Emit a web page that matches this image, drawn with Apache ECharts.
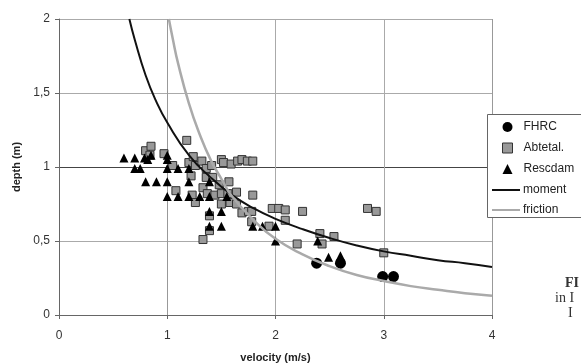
<!DOCTYPE html>
<html><head><meta charset="utf-8">
<script src="https://cdn.jsdelivr.net/npm/echarts@6/dist/echarts.min.js"></script>
<style>html,body{margin:0;padding:0;background:#fff}#c{width:581px;height:364px}</style>
</head><body><div id="c"></div>
<script>
// Data: [velocity (m/s), depth (m)]
const fhrc = [[2.38,0.35],[2.60,0.35],[2.99,0.26],[3.09,0.26]];
const abtetal = [
  [0.80,1.11],[0.85,1.14],[0.84,1.08],[0.97,1.09],[1.05,1.01],[1.08,0.84],[1.18,1.18],
  [1.20,1.03],[1.24,1.07],[1.26,1.01],[1.22,0.94],[1.23,0.81],[1.26,0.76],
  [1.32,1.04],[1.36,0.99],[1.41,1.01],[1.36,0.93],[1.42,0.93],
  [1.33,0.86],[1.37,0.82],[1.44,0.81],[1.48,0.88],[1.50,0.82],[1.56,0.82],[1.57,0.90],[1.64,0.83],[1.79,0.81],
  [1.50,1.05],[1.52,1.03],[1.59,1.02],[1.65,1.04],[1.69,1.05],[1.74,1.04],[1.79,1.04],
  [1.50,0.75],[1.58,0.76],[1.64,0.75],[1.69,0.69],[1.75,0.70],[1.78,0.70],[1.78,0.63],
  [1.39,0.67],[1.39,0.57],[1.33,0.51],
  [1.94,0.60],[1.97,0.72],[2.03,0.72],[2.09,0.71],[2.09,0.64],[2.25,0.70],
  [2.20,0.48],[2.41,0.55],[2.43,0.48],[2.54,0.53],[2.85,0.72],[2.93,0.70],[3.00,0.42]
];
const rescdam = [
  [0.60,1.06],[0.70,1.06],[0.79,1.06],[0.85,1.08],[0.82,1.05],[1.00,1.08],[1.00,1.05],
  [0.70,0.99],[0.75,0.99],[1.00,0.99],[1.10,0.99],[1.20,0.99],
  [0.80,0.90],[0.90,0.90],[1.00,0.90],[1.20,0.90],[1.39,0.90],
  [1.00,0.80],[1.10,0.80],[1.20,0.80],[1.30,0.80],[1.39,0.80],[1.55,0.80],
  [1.39,0.70],[1.50,0.70],[1.39,0.60],[1.50,0.60],[1.79,0.60],[1.88,0.60],[2.00,0.60],
  [2.00,0.50],[2.39,0.50],[2.49,0.39],[2.60,0.40],[2.60,0.37]
];
const moment = [[0.65,2.0],[0.7,1.86],[0.8,1.62],[0.9,1.44],[1.0,1.3],[1.2,1.08],[1.4,0.93],[1.6,0.81],[1.8,0.72],[2.0,0.65],[2.25,0.58],[2.5,0.52],[2.75,0.47],[3.0,0.43],[3.25,0.40],[3.5,0.37],[3.75,0.35],[4.0,0.325]];
const friction = [[1.015,2.0],[1.05,1.87],[1.1,1.70],[1.2,1.43],[1.3,1.22],[1.4,1.05],[1.5,0.92],[1.6,0.80],[1.8,0.64],[2.0,0.515],[2.25,0.41],[2.5,0.33],[2.75,0.27],[3.0,0.23],[3.25,0.195],[3.5,0.17],[3.75,0.147],[4.0,0.13]];
const xTicks = ['0','1','2','3','4'];
const yTicks = ['0','0,5','1','1,5','2'];

const font = '"Liberation Sans", Arial, sans-serif';
const chart = echarts.init(document.getElementById('c'), null, {renderer:'canvas'});
chart.setOption({
  animation:false,
  backgroundColor:'#fff',
  grid:{left:59, top:19, right:89, bottom:49, containLabel:false, outerBoundsMode:'none'},
  xAxis:{type:'value', min:0, max:4, interval:1,
    name:'velocity (m/s)', nameLocation:'middle', nameGap:37,
    nameTextStyle:{fontFamily:font, fontWeight:'bold', fontSize:11, color:'#222'},
    axisLine:{lineStyle:{color:'#666'}}, axisTick:{show:true, length:4, lineStyle:{color:'#666'}},
    axisLabel:{fontFamily:font, fontSize:12, color:'#333', margin:15, formatter:v=>xTicks[Math.round(v)]},
    splitLine:{show:true, lineStyle:{color:['#999','#999','#aaa','#aaa','#999'], width:1}}},
  yAxis:{type:'value', min:0, max:2, interval:0.5,
    name:'depth (m)', nameLocation:'middle', nameGap:36, nameRotate:90,
    nameTextStyle:{fontFamily:font, fontWeight:'bold', fontSize:11, color:'#222'},
    axisLine:{show:true, lineStyle:{color:'#666'}}, axisTick:{show:true, length:4, lineStyle:{color:'#666'}},
    axisLabel:{fontFamily:font, fontSize:12, color:'#333', margin:9, formatter:v=>yTicks[Math.round(v*2)]},
    splitLine:{show:true, lineStyle:{color:['#666','#aaa','#444','#aaa','#aaa'], width:1}}},
  legend:[
    {orient:'vertical', left:502, top:121, padding:0, itemGap:9, itemWidth:10, itemHeight:10, z:20,
     data:[{name:'FHRC', icon:'circle', itemStyle:{color:'#000'}},{name:'Abtetal.', icon:'rect', itemStyle:{color:'#999', borderColor:'#333', borderWidth:1}},{name:'Rescdam', icon:'triangle', itemStyle:{color:'#000'}}],
     textStyle:{fontFamily:font, fontSize:12, color:'#222', padding:[0,0,0,6]}},
    {orient:'vertical', left:492, top:184, padding:0, itemGap:8, itemWidth:28, itemHeight:12, z:20,
     data:[{name:'moment', icon:'path://M0,5h28v2h-28z', itemStyle:{color:'#111'}},{name:'friction', icon:'path://M0,5h28v2h-28z', itemStyle:{color:'#aaa'}}],
     textStyle:{fontFamily:font, fontSize:12, color:'#222', padding:[0,0,0,-2]}}
  ],
  graphic:[
    {type:'rect', shape:{x:487.5, y:114.5, width:120, height:103}, style:{fill:'#fff', stroke:'#666', lineWidth:1}, z:10},
    {type:'text', x:565, y:276, style:{text:'FI', font:'bold 14px "Liberation Serif", serif', fill:'#333'}},
    {type:'text', x:555, y:291, style:{text:'in I', font:'14px "Liberation Serif", serif', fill:'#333'}},
    {type:'text', x:568, y:306, style:{text:'I', font:'14px "Liberation Serif", serif', fill:'#333'}}
  ],
  series:[
    {name:'FHRC', type:'scatter', data:fhrc, symbol:'circle', symbolSize:11, itemStyle:{color:'#000', opacity:1}},
    {name:'Abtetal.', type:'scatter', data:abtetal, symbol:'rect', symbolSize:8, itemStyle:{color:'#999', borderColor:'#333', borderWidth:1, opacity:1}},
    {name:'Rescdam', type:'scatter', data:rescdam, symbol:'triangle', symbolSize:9, itemStyle:{color:'#000', opacity:1}},
    {name:'moment', type:'line', data:moment, smooth:true, showSymbol:false, symbol:'none', lineStyle:{color:'#111', width:2}, itemStyle:{color:'#111'}},
    {name:'friction', type:'line', data:friction, smooth:true, showSymbol:false, symbol:'none', lineStyle:{color:'#aaa', width:2.5}, itemStyle:{color:'#aaa'}}
  ]
});
</script></body></html>
